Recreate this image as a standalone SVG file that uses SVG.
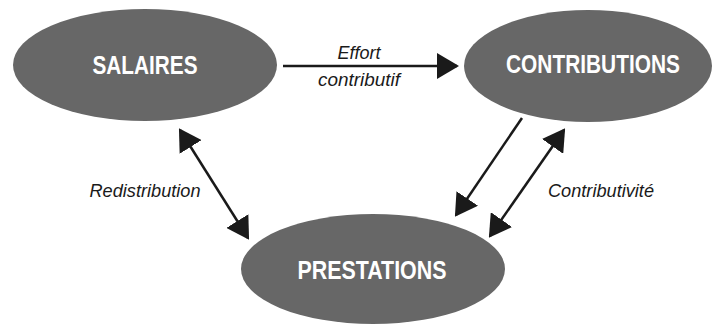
<svg xmlns="http://www.w3.org/2000/svg" width="716" height="324" viewBox="0 0 716 324">
<style>
.node ellipse{fill:#676767}
.node text{font-family:"Liberation Sans",Arial,sans-serif;font-weight:bold;font-size:26px;fill:#ffffff;text-anchor:middle}
.lbl{font-family:"Liberation Sans",Arial,sans-serif;font-style:italic;font-size:18px;fill:#1a1a1a;text-anchor:middle}
.edge{stroke:#1a1a1a;stroke-width:2.5;fill:none}
</style>
<defs>
<marker id="ah" viewBox="0 0 22 26" refX="20" refY="13" markerWidth="22" markerHeight="26" markerUnits="userSpaceOnUse" orient="auto-start-reverse">
<path d="M0,0 L22,13 L0,26 z" fill="#1a1a1a"/>
</marker>
</defs>
<rect width="716" height="324" fill="#ffffff"/>
<g id="salaires" class="node">
<ellipse cx="145" cy="65" rx="132" ry="56"/>
<text x="145" y="74" textLength="105" lengthAdjust="spacingAndGlyphs">SALAIRES</text>
</g>
<g id="contributions" class="node">
<ellipse cx="588" cy="66" rx="124" ry="56"/>
<text x="593" y="73" textLength="174" lengthAdjust="spacingAndGlyphs">CONTRIBUTIONS</text>
</g>
<g id="prestations" class="node">
<ellipse cx="373" cy="269" rx="132" ry="55"/>
<text x="372" y="279" textLength="149" lengthAdjust="spacingAndGlyphs">PRESTATIONS</text>
</g>
<g id="connectors">
<line class="edge" x1="283" y1="66" x2="457" y2="66" marker-end="url(#ah)"/>
<line class="edge" x1="180" y1="130" x2="248" y2="238" marker-start="url(#ah)" marker-end="url(#ah)"/>
<line class="edge" x1="522" y1="118" x2="456" y2="215" marker-end="url(#ah)"/>
<line class="edge" x1="564" y1="130" x2="490" y2="236" marker-start="url(#ah)" marker-end="url(#ah)"/>
</g>
<g id="labels">
<text class="lbl" x="359" y="59" textLength="43" lengthAdjust="spacingAndGlyphs">Effort</text>
<text class="lbl" x="359" y="86" textLength="82" lengthAdjust="spacingAndGlyphs">contributif</text>
<text class="lbl" x="145" y="197" textLength="111" lengthAdjust="spacingAndGlyphs">Redistribution</text>
<text class="lbl" x="601" y="197" textLength="106" lengthAdjust="spacingAndGlyphs">Contributivité</text>
</g>
</svg>
